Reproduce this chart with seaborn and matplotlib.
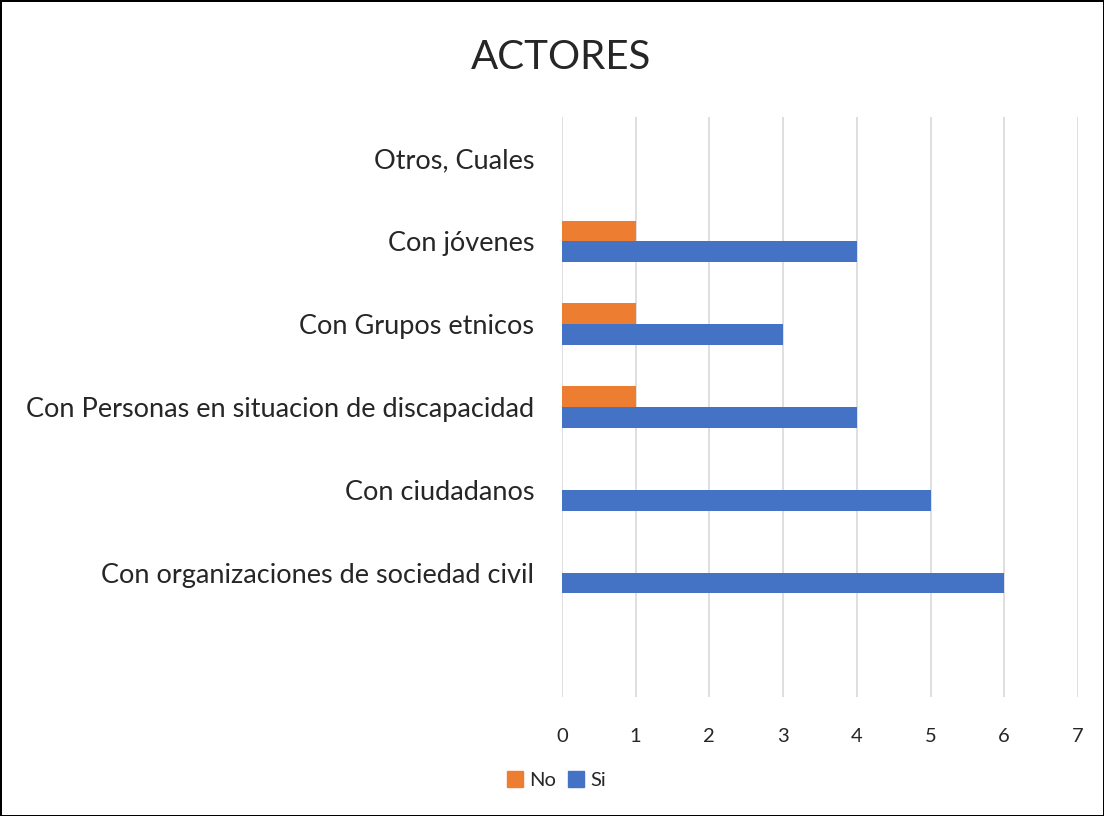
import pandas as pd
import matplotlib
matplotlib.use("Agg")
import matplotlib.pyplot as plt
import seaborn as sns

# Datos
categorias = [
    "Otros, Cuales",
    "Con jóvenes",
    "Con Grupos etnicos",
    "Con Personas en situacion de discapacidad",
    "Con ciudadanos",
    "Con organizaciones de sociedad civil",
]
valores_no = [0, 1, 1, 1, 0, 0]
valores_si = [0, 4, 3, 4, 5, 6]
series = ["No", "Si"]
ticks_x = [0, 1, 2, 3, 4, 5, 6, 7]

df = pd.DataFrame(
    {
        "Categoria": categorias * 2,
        "Valor": valores_no + valores_si,
        "Serie": ["No"] * len(categorias) + ["Si"] * len(categorias),
    }
)

sns.set_theme(style="white")
plt.rcParams["font.family"] = ["Lato", "DejaVu Sans"]

fig = plt.figure(figsize=(11.04, 8.16), dpi=100)
ax = fig.add_axes([0.509, 0.1458, 0.4674, 0.7108])

sns.barplot(
    data=df,
    y="Categoria",
    x="Valor",
    hue="Serie",
    hue_order=series,
    order=categorias,
    palette={"No": "#ED7D31", "Si": "#4472C4"},
    width=0.5,
    saturation=1,
    linewidth=0,
    orient="h",
    ax=ax,
    legend=False,
)

ax.set_xlim(0, 7)
ax.set_ylim(len(categorias) + 0.5, -0.5)
ax.set_xticks(ticks_x)
ax.set_xticklabels([str(t) for t in ticks_x], fontsize=14.5)
ax.tick_params(axis="x", length=0, pad=22)
ax.tick_params(axis="y", length=0, pad=20, labelsize=19.5)
ax.set_xlabel("")
ax.set_ylabel("")
ax.grid(axis="x", color="#D9D9D9", linewidth=1.2)
ax.set_axisbelow(True)
for s in ax.spines.values():
    s.set_visible(False)

fig.text(0.508, 0.929, "ACTORES", ha="center", va="center", fontsize=29)

handles = [
    plt.Rectangle((0, 0), 1, 1, color="#ED7D31"),
    plt.Rectangle((0, 0), 1, 1, color="#4472C4"),
]
fig.legend(
    handles,
    series,
    loc="center",
    bbox_to_anchor=(0.504, 0.044),
    ncol=2,
    frameon=False,
    fontsize=14.5,
    handlelength=0.8,
    handleheight=0.8,
    handletextpad=0.3,
    columnspacing=0.6,
)

fig.patch.set_edgecolor("black")
fig.patch.set_linewidth(2)
fig.savefig("out.png", dpi=100, edgecolor=fig.get_edgecolor())
